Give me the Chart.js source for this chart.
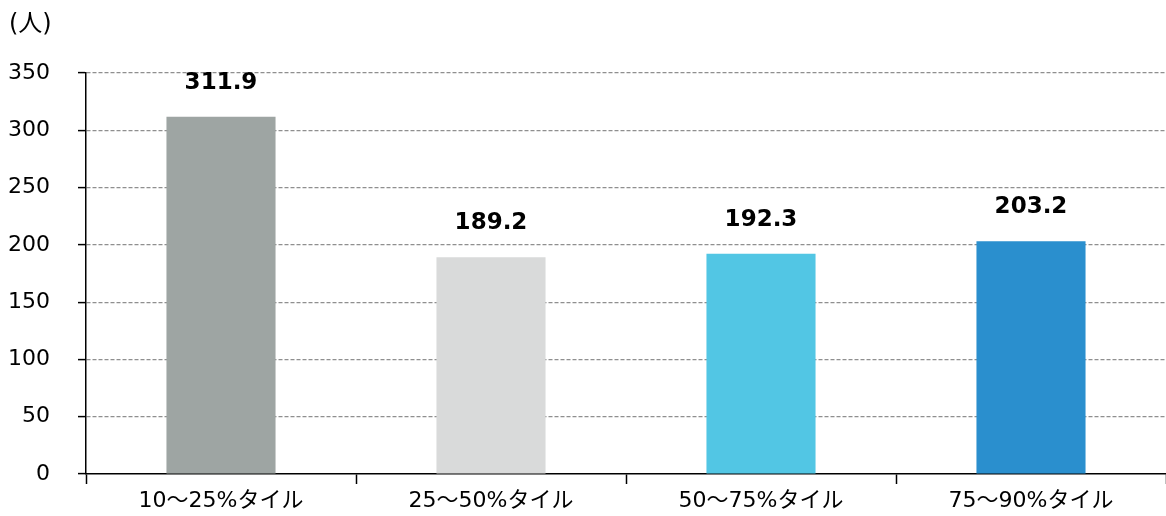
<!DOCTYPE html>
<html lang="ja">
<head>
<meta charset="utf-8">
<title>タイル別 人数</title>
<script src="https://cdn.jsdelivr.net/npm/chart.js@4"></script>
<style>
  html, body { margin: 0; padding: 0; background: #fff; }
  #wrap { width: 1166px; height: 516px; position: relative; }
</style>
</head>
<body>
<div id="wrap"><canvas id="chart" width="1166" height="516"></canvas></div>
<script>
// Categories and values
const categories = ['10～25%タイル', '25～50%タイル', '50～75%タイル', '75～90%タイル'];
const values = [311.9, 189.2, 192.3, 203.2];
const barColors = ['#9EA5A3', '#D9DADA', '#52C6E4', '#2A8FCE'];
const unitLabel = '(人)';
const yMax = 350;
const yStep = 50;

const FONT = '"DejaVu Sans", "Noto Sans CJK JP", sans-serif';

// Bold value label above each bar, plus the unit label at the top left
const valueLabels = {
  id: 'valueLabels',
  afterDatasetsDraw(chart) {
    const ctx = chart.ctx;
    const meta = chart.getDatasetMeta(0);
    ctx.save();
    ctx.fillStyle = '#000';
    ctx.font = 'bold 23px ' + FONT;
    ctx.textAlign = 'center';
    ctx.textBaseline = 'middle';
    meta.data.forEach((bar, i) => {
      ctx.fillText(values[i].toFixed(1), bar.x, bar.y - 34);
    });
    ctx.font = '24px ' + FONT;
    ctx.textAlign = 'left';
    ctx.fillText(unitLabel, 9, 25);
    ctx.restore();
  }
};

new Chart(document.getElementById('chart'), {
  type: 'bar',
  data: {
    labels: categories,
    datasets: [{
      data: values,
      backgroundColor: barColors,
      borderWidth: 0,
      categoryPercentage: 1,
      barPercentage: 0.404
    }]
  },
  options: {
    responsive: false,
    animation: false,
    layout: { padding: { top: 73, right: 0, left: 0, bottom: 0 } },
    plugins: {
      legend: { display: false },
      tooltip: { enabled: false }
    },
    scales: {
      x: {
        afterFit(scale) { scale.height = 42; },
        grid: {
          offset: true,
          drawOnChartArea: false,
          drawTicks: true,
          tickLength: 10,
          tickColor: '#000',
          tickWidth: 1.5
        },
        border: { display: true, color: '#000', width: 1.5 },
        ticks: {
          color: '#000',
          font: { family: FONT, size: 22 },
          padding: 4,
          maxRotation: 0
        }
      },
      y: {
        min: 0,
        max: yMax,
        afterFit(scale) { scale.width = 86; },
        grid: {
          color: (c) => (c.tick && c.tick.value === 0) ? 'rgba(0,0,0,0)' : '#8f8f8f',
          lineWidth: 1.2,
          drawTicks: true,
          tickLength: 8,
          tickColor: '#000',
          tickWidth: 1.5
        },
        border: { display: true, color: '#000', width: 1.5, dash: [4, 2] },
        ticks: {
          stepSize: yStep,
          color: '#000',
          font: { family: FONT, size: 22 },
          padding: 28
        }
      }
    }
  },
  plugins: [valueLabels]
});
</script>
</body>
</html>
